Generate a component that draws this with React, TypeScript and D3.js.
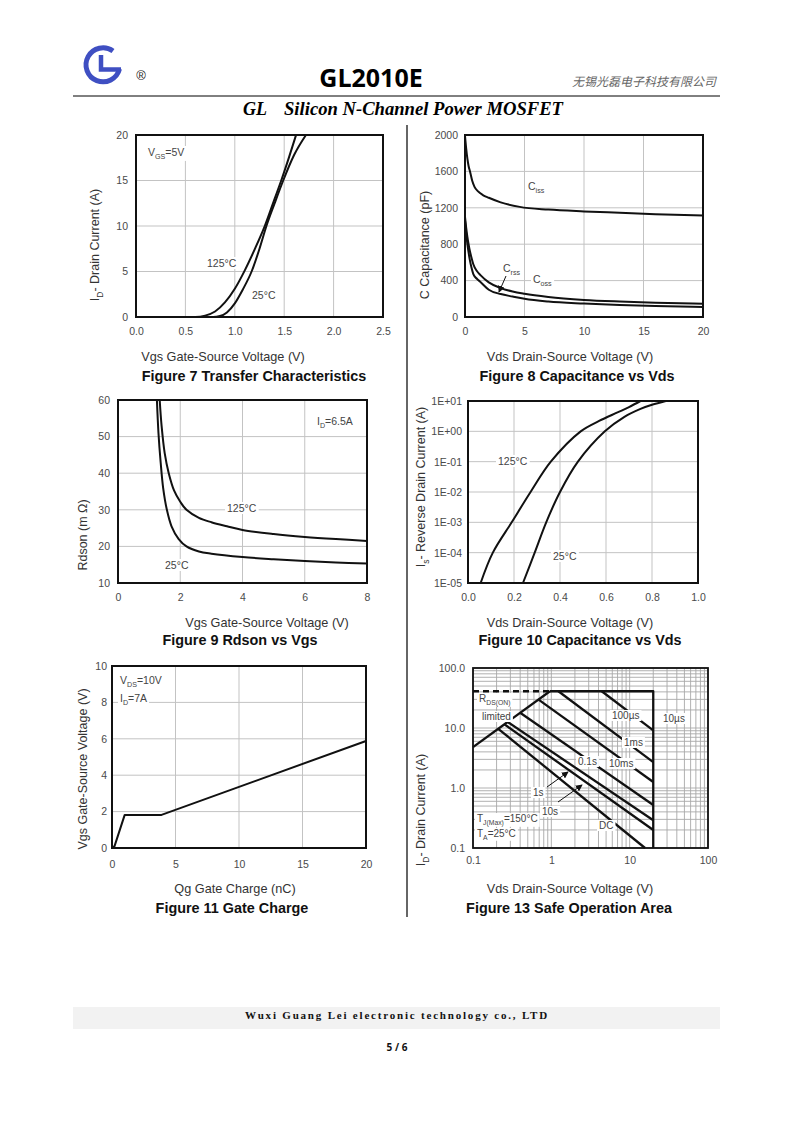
import React, { useEffect, useRef } from "react";
import * as d3 from "d3";

type Pt = [number, number];

// ---- Figure 7 Transfer Characteristics (Vgs [V], Id [A]) ----
const fig7XTicks = [0, 0.5, 1.0, 1.5, 2.0, 2.5];
const fig7YTicks = [0, 5, 10, 15, 20];
const fig7Id125: Pt[] = [
  [0.0, 0], [0.6, 0], [0.7, 0.15], [0.8, 0.6], [0.9, 1.6], [1.0, 3.1], [1.1, 5.1],
  [1.2, 7.4], [1.3, 9.9], [1.4, 12.9], [1.47, 15.0], [1.55, 17.6], [1.62, 20],
];
const fig7Id25: Pt[] = [
  [0.0, 0], [0.78, 0], [0.85, 0.1], [0.92, 0.5], [1.0, 1.5], [1.08, 3.0], [1.17, 5.0],
  [1.25, 7.5], [1.32, 10], [1.4, 12.4], [1.49, 15], [1.6, 17.8], [1.72, 20],
];

// ---- Figure 8 Capacitance vs Vds (Vds [V], C [pF]) ----
const fig8XTicks = [0, 5, 10, 15, 20];
const fig8YTicks = [0, 400, 800, 1200, 1600, 2000];
const fig8Ciss: Pt[] = [
  [0, 1990], [0.1, 1850], [0.2, 1740], [0.3, 1660], [0.42, 1600], [0.6, 1500], [0.8, 1430],
  [1.1, 1380], [1.5, 1340], [2, 1310], [3, 1260], [4.6, 1210], [7, 1180], [10, 1160],
  [13, 1145], [16, 1130], [20, 1115],
];
const fig8Coss: Pt[] = [
  [0, 1100], [0.1, 980], [0.2, 880], [0.3, 800], [0.4, 730], [0.55, 650], [0.7, 580],
  [1.0, 505], [1.3, 460], [2, 380], [3, 318], [4, 280], [5, 255], [7, 220], [10, 188],
  [13, 170], [16, 157], [20, 145],
];
const fig8Crss: Pt[] = [
  [0, 1060], [0.1, 920], [0.2, 800], [0.3, 710], [0.4, 630], [0.55, 540], [0.7, 470],
  [1.0, 420], [1.3, 385], [2, 300], [3, 252], [4, 225], [5, 200], [7, 170], [10, 148],
  [13, 132], [16, 120], [20, 110],
];

// ---- Figure 9 Rdson vs Vgs (Vgs [V], Rdson [mOhm]) ----
const fig9XTicks = [0, 2, 4, 6, 8];
const fig9YTicks = [10, 20, 30, 40, 50, 60];
const fig9R25: Pt[] = [
  [1.25, 60], [1.3, 51], [1.37, 43], [1.45, 36], [1.57, 30], [1.72, 25.5],
  [1.95, 22], [2.2, 20], [2.6, 18.6], [3, 18], [4, 17.1], [5, 16.5], [6, 16], [7, 15.6], [8, 15.3],
];
const fig9R125: Pt[] = [
  [1.34, 60], [1.4, 53], [1.5, 45.5], [1.63, 40], [1.8, 35.3], [2.0, 32.2], [2.2, 30],
  [2.6, 27.8], [3, 26.6], [3.5, 25.5], [4, 24.5], [5, 23.4], [6, 22.6], [7, 22], [8, 21.5],
];

// ---- Figure 10 Body diode (Vsd [V], Is [A]) ----
const fig10XTicks = [0, 0.2, 0.4, 0.6, 0.8, 1.0];
const fig10YTicks = [1e-5, 1e-4, 1e-3, 1e-2, 1e-1, 1, 10];
const fig10YLabels = ["1E-05", "1E-04", "1E-03", "1E-02", "1E-01", "1E+00", "1E+01"];
const fig10Is125: Pt[] = [
  [0.055, 1e-5], [0.108, 1e-4], [0.19, 1e-3], [0.272, 1e-2], [0.36, 1e-1], [0.49, 1],
  [0.57, 2.2], [0.65, 4.2], [0.7, 6.3], [0.75, 10],
];
const fig10Is25: Pt[] = [
  [0.239, 1e-5], [0.29, 1e-4], [0.34, 1e-3], [0.4, 1e-2], [0.478, 0.1], [0.595, 1],
  [0.68, 3], [0.75, 5.5], [0.8, 7.5], [0.86, 10],
];

// ---- Figure 11 Gate Charge (Qg [nC], Vgs [V]) ----
const fig11XTicks = [0, 5, 10, 15, 20];
const fig11YTicks = [0, 2, 4, 6, 8, 10];
const fig11Vgs: Pt[] = [[0, 0], [0.2, 0.1], [1.0, 1.82], [3.9, 1.82], [20, 5.88]];

// ---- Figure 13 Safe Operation Area (Vds [V], Id [A]) ----
const fig13Ticks = [0.1, 1, 10, 100];
const fig13XLabels = ["0.1", "1", "10", "100"];
const fig13YLabels = ["0.1", "1.0", "10.0", "100.0"];
const soaRdsDash: Pt[] = [[0.1, 41], [0.96, 41]];
const soaRds: Pt[] = [[0.1, 4.8], [0.96, 41]];
const soa10us: Pt[] = [[0.96, 41], [20, 41], [20, 0.1]];
const soa100us: Pt[] = [[4.4, 41], [20, 9.1]];
const soa1ms: Pt[] = [[1.23, 41], [20, 2.7]];
const soa10ms: Pt[] = [[0.68, 30], [20, 1.26]];
const soa100ms: Pt[] = [[0.4, 18], [20, 0.52]];
const soa1s: Pt[] = [[0.28, 12.5], [20, 0.29]];
const soa10s: Pt[] = [[0.25, 11.6], [20, 0.2]];
const soaDC: Pt[] = [[0.21, 9.7], [15.7, 0.1]];

const FONT = "'Liberation Sans', Arial, Helvetica, sans-serif";
const INK = "#111";

type Sel = d3.Selection<any, any, any, any>;
type Box = { left: number; top: number; right: number; bottom: number };
type Part = string | { sub: string };

function rich(
  parent: Sel, x: number, y: number, parts: Part[], size: number,
  o: { bg?: boolean; anchor?: string; fill?: string; weight?: string; rotate?: boolean } = {}
) {
  const t = parent.append("text")
    .attr("x", x).attr("y", y)
    .attr("font-family", FONT).attr("font-size", size)
    .attr("font-weight", o.weight || "normal")
    .attr("fill", o.fill || "#333")
    .attr("text-anchor", o.anchor || "start");
  if (o.rotate) t.attr("transform", `rotate(-90,${x},${y})`);
  let shifted = false;
  parts.forEach((p) => {
    if (typeof p === "string") {
      t.append("tspan").attr("dy", shifted ? -size * 0.28 : 0).text(p);
      shifted = false;
    } else {
      t.append("tspan").attr("dy", size * 0.28).attr("font-size", size * 0.68).text(p.sub);
      shifted = true;
    }
  });
  if (o.bg) {
    const b = (t.node() as SVGTextElement).getBBox();
    parent.insert("rect", () => t.node())
      .attr("x", b.x - 2).attr("y", b.y).attr("width", b.width + 4).attr("height", b.height)
      .attr("fill", "#fff");
  }
  return t;
}

function panel(
  svg: Sel, box: Box, x: any, y: any,
  o: {
    xTicks: number[]; yTicks: number[];
    xFmt: (d: any, i: number) => string; yFmt: (d: any, i: number) => string;
    xGrid: number[]; yGrid: number[];
    gridColor?: string; gridWidth?: number; xPad?: number; yPad?: number;
  }
) {
  const g = svg.append("g");
  const grid = g.append("g")
    .attr("stroke", o.gridColor || "#c3c3c3")
    .attr("stroke-width", o.gridWidth || 1);
  grid.selectAll("line.v").data(o.xGrid).join("line").attr("class", "v")
    .attr("x1", (d: number) => x(d)).attr("x2", (d: number) => x(d))
    .attr("y1", box.top).attr("y2", box.bottom);
  grid.selectAll("line.h").data(o.yGrid).join("line").attr("class", "h")
    .attr("y1", (d: number) => y(d)).attr("y2", (d: number) => y(d))
    .attr("x1", box.left).attr("x2", box.right);

  const ax = g.append("g").attr("transform", `translate(0,${box.bottom})`)
    .call(d3.axisBottom(x).tickValues(o.xTicks).tickFormat(o.xFmt as any)
      .tickSize(0).tickPadding(o.xPad ?? 11));
  const ay = g.append("g").attr("transform", `translate(${box.left},0)`)
    .call(d3.axisLeft(y).tickValues(o.yTicks).tickFormat(o.yFmt as any)
      .tickSize(0).tickPadding(o.yPad ?? 8));
  [ax, ay].forEach((a) => {
    a.select(".domain").remove();
    a.selectAll("text").attr("font-family", FONT).attr("font-size", 10.5).attr("fill", "#4a4a4a");
  });
  return g;
}

function curve(g: Sel, x: any, y: any, data: Pt[], kind: "mono" | "cr" | "lin" = "mono", width = 2, dash?: string) {
  const line = d3.line<Pt>().x((d) => x(d[0])).y((d) => y(d[1]));
  if (kind === "mono") line.curve(d3.curveMonotoneX);
  if (kind === "cr") line.curve(d3.curveCatmullRom.alpha(0.5));
  const p = g.append("path").attr("d", line(data) || "")
    .attr("fill", "none").attr("stroke", INK).attr("stroke-width", width)
    .attr("stroke-linejoin", "round");
  if (dash) p.attr("stroke-dasharray", dash);
}

function frame(g: Sel, box: Box, width = 2) {
  g.append("rect").attr("x", box.left).attr("y", box.top)
    .attr("width", box.right - box.left).attr("height", box.bottom - box.top)
    .attr("fill", "none").attr("stroke", INK).attr("stroke-width", width);
}

function titles(svg: Sel, xt: [number, number, string], yt: [number, number, Part[]], ft: [number, number, string]) {
  rich(svg, xt[0], xt[1], [xt[2]], 12.7, { anchor: "middle", fill: "#333" });
  rich(svg, yt[0], yt[1], yt[2], 12.5, { anchor: "middle", fill: "#333", rotate: true });
  rich(svg, ft[0], ft[1], [ft[2]], 14.4, { anchor: "middle", fill: "#111", weight: "bold" });
}

function arrow(g: Sel, x1: number, y1: number, x2: number, y2: number) {
  g.append("line").attr("x1", x1).attr("y1", y1).attr("x2", x2).attr("y2", y2)
    .attr("stroke", INK).attr("stroke-width", 1).attr("marker-end", "url(#ah)");
}

export default function App() {
  const ref = useRef<SVGSVGElement>(null);

  useEffect(() => {
    if (!ref.current) return;
    const svg = d3.select(ref.current);
    svg.selectAll("*").remove();
    svg.append("rect").attr("width", 793).attr("height", 1122).attr("fill", "#fff");
    svg.append("defs").append("marker").attr("id", "ah")
      .attr("viewBox", "0 0 8 8").attr("refX", 7).attr("refY", 4)
      .attr("markerWidth", 7).attr("markerHeight", 7).attr("orient", "auto")
      .append("path").attr("d", "M0,0 L8,4 L0,8 z").attr("fill", INK);

    // ---------- header ----------
    svg.append("path").attr("d", "M 113 51 A 17 17 0 1 0 119.5 69")
      .attr("fill", "none").attr("stroke", "#3f4fc2").attr("stroke-width", 5);
    svg.append("path").attr("d", "M 101 55 L 101 69.5 L 121 69.5")
      .attr("fill", "none").attr("stroke", "#3f4fc2").attr("stroke-width", 4.5);
    svg.append("text").attr("x", 141).attr("y", 80).attr("text-anchor", "middle")
      .attr("font-family", FONT).attr("font-size", 13).attr("fill", "#222").text("®");
    svg.append("text").attr("x", 371).attr("y", 87).attr("text-anchor", "middle")
      .attr("font-family", "'Open Sans', sans-serif").attr("font-weight", "bold")
      .attr("font-size", 25).attr("fill", "#000").text("GL2010E");
    svg.append("text").attr("x", 716).attr("y", 86).attr("text-anchor", "end")
      .attr("font-family", "'Noto Sans CJK SC', sans-serif").attr("font-style", "italic")
      .attr("font-size", 12).attr("fill", "#666").text("无锡光磊电子科技有限公司");
    svg.append("line").attr("x1", 73).attr("x2", 720).attr("y1", 96).attr("y2", 96)
      .attr("stroke", "#000").attr("stroke-width", 1);
    const sub = svg.append("g").attr("font-family", "'Liberation Serif', 'Times New Roman', serif")
      .attr("font-weight", "bold").attr("font-style", "italic").attr("font-size", 18).attr("fill", "#000");
    sub.append("text").attr("x", 243).attr("y", 115).text("GL");
    sub.append("text").attr("x", 284).attr("y", 115)
      .attr("textLength", 279).attr("lengthAdjust", "spacingAndGlyphs")
      .text("Silicon N-Channel Power MOSFET");

    // divider
    svg.append("line").attr("x1", 407).attr("x2", 407).attr("y1", 125).attr("y2", 917)
      .attr("stroke", "#333").attr("stroke-width", 1.5);

    // ---------- footer ----------
    svg.append("rect").attr("x", 73).attr("y", 1007).attr("width", 647).attr("height", 22).attr("fill", "#f2f2f2");
    svg.append("text").attr("x", 397).attr("y", 1019).attr("text-anchor", "middle")
      .attr("font-family", "'Liberation Serif', serif").attr("font-weight", "bold")
      .attr("font-size", 11).attr("letter-spacing", 1.8).attr("fill", "#111")
      .text("Wuxi Guang Lei electronic technology co., LTD");
    svg.append("text").attr("x", 397).attr("y", 1051).attr("text-anchor", "middle")
      .attr("font-family", "'Open Sans', sans-serif").attr("font-weight", "bold")
      .attr("font-size", 10).attr("fill", "#111").text("5 / 6");

    // ---------- Figure 7 ----------
    {
      const box = { left: 136, top: 135, right: 383, bottom: 317 };
      const x = d3.scaleLinear().domain([0, 2.5]).range([box.left, box.right]);
      const y = d3.scaleLinear().domain([0, 20]).range([box.bottom, box.top]);
      const g = panel(svg, box, x, y, {
        xTicks: fig7XTicks, yTicks: fig7YTicks, xFmt: d3.format(".1f"), yFmt: d3.format("d"),
        xGrid: fig7XTicks, yGrid: fig7YTicks,
      });
      rich(g, 148, 156, ["V", { sub: "GS" }, "=5V"], 10.5, { bg: true, fill: "#444" });
      rich(g, 207, 267, ["125°C"], 10.5, { bg: true, fill: "#444" });
      rich(g, 252, 299, ["25°C"], 10.5, { bg: true, fill: "#444" });
      curve(g, x, y, fig7Id125);
      curve(g, x, y, fig7Id25);
      frame(g, box);
      titles(svg, [223, 361, "Vgs Gate-Source Voltage (V)"], [99, 245, ["I", { sub: "D" }, "- Drain Current (A)"]],
        [254, 381, "Figure 7 Transfer Characteristics"]);
    }

    // ---------- Figure 8 ----------
    {
      const box = { left: 465, top: 135, right: 703, bottom: 317 };
      const x = d3.scaleLinear().domain([0, 20]).range([box.left, box.right]);
      const y = d3.scaleLinear().domain([0, 2000]).range([box.bottom, box.top]);
      const g = panel(svg, box, x, y, {
        xTicks: fig8XTicks, yTicks: fig8YTicks, xFmt: d3.format("d"), yFmt: d3.format("d"),
        xGrid: fig8XTicks, yGrid: fig8YTicks, yPad: 7,
      });
      rich(g, 528, 190, ["C", { sub: "iss" }], 10.5, { bg: true, fill: "#444" });
      rich(g, 503, 272, ["C", { sub: "rss" }], 10.5, { bg: true, fill: "#444" });
      rich(g, 533, 283, ["C", { sub: "oss" }], 10.5, { bg: true, fill: "#444" });
      curve(g, x, y, fig8Ciss);
      curve(g, x, y, fig8Coss);
      curve(g, x, y, fig8Crss);
      arrow(g, 506, 276, 499, 292);
      frame(g, box);
      titles(svg, [570, 361, "Vds Drain-Source Voltage (V)"], [429, 245, ["C Capacitance (pF)"]],
        [577, 381, "Figure 8 Capacitance vs Vds"]);
    }

    // ---------- Figure 9 ----------
    {
      const box = { left: 118, top: 400, right: 367, bottom: 583 };
      const x = d3.scaleLinear().domain([0, 8]).range([box.left, box.right]);
      const y = d3.scaleLinear().domain([10, 60]).range([box.bottom, box.top]);
      const g = panel(svg, box, x, y, {
        xTicks: fig9XTicks, yTicks: fig9YTicks, xFmt: d3.format("d"), yFmt: d3.format("d"),
        xGrid: fig9XTicks, yGrid: fig9YTicks,
      });
      rich(g, 317, 425, ["I", { sub: "D" }, "=6.5A"], 10.5, { bg: true, fill: "#444" });
      rich(g, 227, 512, ["125°C"], 10.5, { bg: true, fill: "#444" });
      rich(g, 165, 569, ["25°C"], 10.5, { bg: true, fill: "#444" });
      curve(g, x, y, fig9R25, "cr");
      curve(g, x, y, fig9R125, "cr");
      frame(g, box);
      titles(svg, [267, 627, "Vgs Gate-Source Voltage (V)"], [87, 535, ["Rdson (m Ω)"]],
        [240, 645, "Figure 9 Rdson vs Vgs"]);
    }

    // ---------- Figure 10 ----------
    {
      const box = { left: 468, top: 401, right: 698, bottom: 583 };
      const x = d3.scaleLinear().domain([0, 1]).range([box.left, box.right]);
      const y = d3.scaleLog().domain([1e-5, 10]).range([box.bottom, box.top]);
      const g = panel(svg, box, x, y, {
        xTicks: fig10XTicks, yTicks: fig10YTicks, xFmt: d3.format(".1f"),
        yFmt: (_d, i) => fig10YLabels[i],
        xGrid: fig10XTicks, yGrid: fig10YTicks, yPad: 6,
      });
      rich(g, 498, 465, ["125°C"], 10.5, { bg: true, fill: "#444" });
      rich(g, 553, 560, ["25°C"], 10.5, { bg: true, fill: "#444" });
      curve(g, x, y, fig10Is125, "cr");
      curve(g, x, y, fig10Is25, "cr");
      frame(g, box);
      titles(svg, [570, 627, "Vds Drain-Source Voltage (V)"], [425, 487, ["I", { sub: "s" }, "- Reverse Drain Current (A)"]],
        [580, 645, "Figure 10 Capacitance vs Vds"]);
    }

    // ---------- Figure 11 ----------
    {
      const box = { left: 112, top: 666, right: 366, bottom: 848 };
      const x = d3.scaleLinear().domain([0, 20]).range([box.left, box.right]);
      const y = d3.scaleLinear().domain([0, 10]).range([box.bottom, box.top]);
      const g = panel(svg, box, x, y, {
        xTicks: fig11XTicks, yTicks: fig11YTicks, xFmt: d3.format("d"), yFmt: d3.format("d"),
        xGrid: fig11XTicks, yGrid: fig11YTicks, yPad: 5, xPad: 13,
      });
      rich(g, 120, 684, ["V", { sub: "DS" }, "=10V"], 10.5, { bg: true, fill: "#444" });
      rich(g, 120, 702, ["I", { sub: "D" }, "=7A"], 10.5, { bg: true, fill: "#444" });
      curve(g, x, y, fig11Vgs, "lin");
      frame(g, box);
      titles(svg, [235, 893, "Qg Gate Charge (nC)"], [87, 769, ["Vgs Gate-Source Voltage (V)"]],
        [232, 913, "Figure 11 Gate Charge"]);
    }

    // ---------- Figure 13 ----------
    {
      const box = { left: 473, top: 668, right: 708, bottom: 848 };
      const x = d3.scaleLog().domain([0.1, 100]).range([box.left, box.right]);
      const y = d3.scaleLog().domain([0.1, 100]).range([box.bottom, box.top]);
      const g = panel(svg, box, x, y, {
        xTicks: fig13Ticks, yTicks: fig13Ticks,
        xFmt: (_d, i) => fig13XLabels[i], yFmt: (_d, i) => fig13YLabels[i],
        xGrid: x.ticks(), yGrid: y.ticks(), gridColor: "#a8a8a8", gridWidth: 0.9, xPad: 9,
      });
      curve(g, x, y, soaRdsDash, "lin", 2.3, "6,4");
      [soaRds, soa10us, soa100us, soa1ms, soa10ms, soa100ms, soa1s, soa10s, soaDC]
        .forEach((s) => curve(g, x, y, s, "lin", 2.3));
      const lab = { bg: true, fill: "#444" };
      rich(g, 479, 702, ["R", { sub: "DS(ON)" }], 10, lab);
      rich(g, 482, 720, ["limited"], 10, lab);
      rich(g, 663, 722, ["10µs"], 10, lab);
      rich(g, 612, 719, ["100µs"], 10, lab);
      rich(g, 624, 746, ["1ms"], 10, lab);
      rich(g, 578, 765, ["0.1s"], 10, lab);
      rich(g, 609, 767, ["10ms"], 10, lab);
      rich(g, 533, 796, ["1s"], 10, lab);
      rich(g, 542, 815, ["10s"], 10, lab);
      rich(g, 477, 822, ["T", { sub: "J(Max)" }, "=150°C"], 10, lab);
      rich(g, 477, 837, ["T", { sub: "A" }, "=25°C"], 10, lab);
      rich(g, 599, 829, ["DC"], 10, lab);
      arrow(g, 547, 787, 568, 772);
      arrow(g, 558, 802, 582, 785);
      frame(g, box, 1.8);
      titles(svg, [570, 893, "Vds Drain-Source Voltage (V)"], [425, 810, ["I", { sub: "D" }, "- Drain Current (A)"]],
        [569, 913, "Figure 13 Safe Operation Area"]);
    }
  }, []);

  return (
    <div style={{ position: "absolute", left: 0, top: 0 }}>
      <svg ref={ref} width={793} height={1122} style={{ display: "block" }} />
    </div>
  );
}
